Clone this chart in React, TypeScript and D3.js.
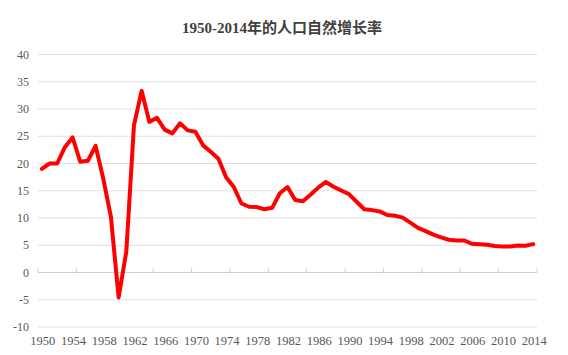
import React from "react";
import * as d3 from "d3";

const years: number[] = d3.range(1950, 2015);
const rates: number[] = [
  19.0, 20.0, 20.0, 23.0, 24.79, 20.32, 20.5, 23.23, 17.24, 10.19,
  -4.57, 3.78, 26.99, 33.33, 27.64, 28.38, 26.22, 25.53, 27.38, 26.08,
  25.83, 23.33, 22.16, 20.89, 17.48, 15.69, 12.66, 12.06, 12.0, 11.61,
  11.87, 14.55, 15.68, 13.29, 13.08, 14.26, 15.57, 16.61, 15.73, 15.04,
  14.39, 12.98, 11.6, 11.45, 11.21, 10.55, 10.42, 10.06, 9.14, 8.18,
  7.58, 6.95, 6.45, 6.01, 5.87, 5.89, 5.28, 5.17, 5.08, 4.87,
  4.79, 4.79, 4.95, 4.92, 5.21,
];
const yTicks: number[] = [-10, -5, 0, 5, 10, 15, 20, 25, 30, 35, 40];
const xLabels: number[] = d3.range(1950, 2015, 4);
const title = "1950-2014年的人口自然增长率";

const W = 568;
const H = 355;
const plotLeft = 38;
const plotRight = 537;

export default function App() {
  const band = (plotRight - plotLeft) / years.length;
  const x = d3
    .scaleLinear()
    .domain([1950, 2014])
    .range([plotLeft + band / 2, plotRight - band / 2]);
  const y = d3.scaleLinear().domain([-10, 40]).range([327, 54.5]);
  const line = d3
    .line<number>()
    .x((_, i) => x(years[i]))
    .y((d) => y(d))
    .curve(d3.curveLinear);
  const tickYears = d3.range(0, years.length + 1, 5).map((k) => plotLeft + k * band);
  const font = "'Liberation Serif', 'Times New Roman', serif";
  return (
    <svg
      width={W}
      height={H}
      style={{ position: "absolute", left: 0, top: 0, background: "#fff" }}
    >
      <text
        x={282}
        y={33}
        textAnchor="middle"
        fontFamily={`'Liberation Serif', 'Noto Sans CJK SC', serif`}
        fontWeight="bold"
        fontSize={15}
        fill="#404040"
      >
        {title}
      </text>
      {yTicks.map((t) => (
        <g key={t}>
          <line
            x1={plotLeft}
            x2={plotRight}
            y1={y(t)}
            y2={y(t)}
            stroke={t === 0 ? "#cfcfcf" : "#e0e0e0"}
            strokeWidth={1}
          />
          <text
            x={29}
            y={y(t)}
            dy="0.35em"
            textAnchor="end"
            fontFamily={font}
            fontSize={12}
            fill="#595959"
          >
            {t}
          </text>
        </g>
      ))}
      {tickYears.map((tx, i) => (
        <line
          key={i}
          x1={tx}
          x2={tx}
          y1={y(0) - 4}
          y2={y(0)}
          stroke="#cfcfcf"
          strokeWidth={1}
        />
      ))}
      {xLabels.map((yr) => (
        <text
          key={yr}
          x={x(yr) + 1}
          y={345}
          textAnchor="middle"
          fontFamily={font}
          fontSize={12.5}
          fill="#595959"
        >
          {yr}
        </text>
      ))}
      <path
        d={line(rates) || ""}
        fill="none"
        stroke="#ff0000"
        strokeWidth={4}
        strokeLinejoin="round"
        strokeLinecap="round"
      />
    </svg>
  );
}
